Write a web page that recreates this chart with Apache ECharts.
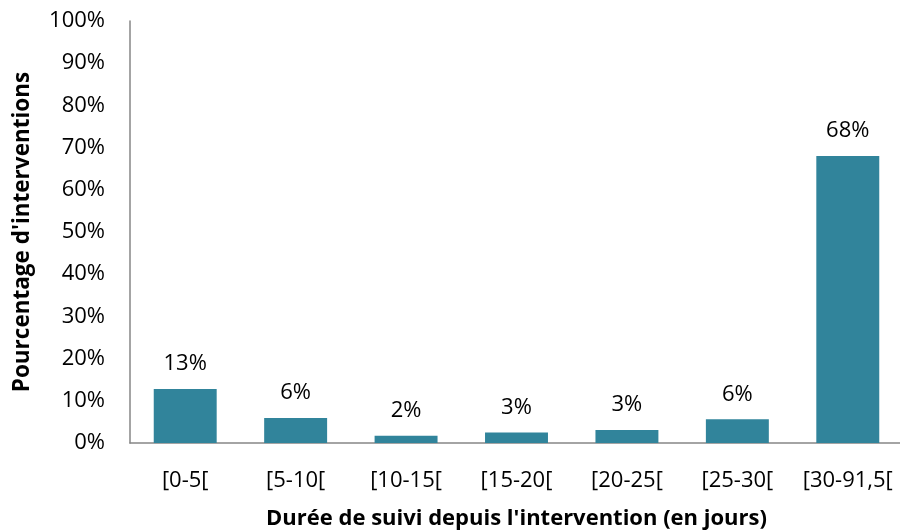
<!DOCTYPE html>
<html>
<head>
<meta charset="utf-8">
<script src="https://cdn.jsdelivr.net/npm/echarts@6/dist/echarts.min.js"></script>
<style>html,body{margin:0;padding:0;background:#fff}#c{width:900px;height:530px}</style>
</head>
<body>
<div id="c"></div>
<script>
const categories = ['[0-5[', '[5-10[', '[10-15[', '[15-20[', '[20-25[', '[25-30[', '[30-91,5['];
const values = [12.8, 5.9, 1.7, 2.5, 3.1, 5.6, 68.0];
const yTicks = {min: 0, max: 100, interval: 10};
const yTitle = "Pourcentage d'interventions";
const xTitle = "Durée de suivi depuis l'intervention (en jours)";

const FONT = 'Open Sans';
const chart = echarts.init(document.getElementById('c'), null, {renderer: 'canvas'});
chart.setOption({
  animation: false,
  textStyle: {fontFamily: FONT, color: '#000'},
  grid: {left: 130, right: -3, top: 21, bottom: 87, containLabel: false, outerBoundsMode: 'none'},
  xAxis: {
    type: 'category',
    data: categories,
    axisLine: {lineStyle: {color: '#868686', width: 1.5}},
    axisTick: {show: false},
    axisLabel: {color: '#000', fontSize: 22, fontFamily: FONT, margin: 27, interval: 0},
    name: xTitle,
    nameLocation: 'middle',
    nameGap: 65,
    nameTextStyle: {color: '#000', fontSize: 22, fontWeight: 'bold', fontFamily: FONT}
  },
  yAxis: {
    type: 'value',
    min: yTicks.min, max: yTicks.max, interval: yTicks.interval,
    axisLine: {show: true, lineStyle: {color: '#868686', width: 1.5}},
    axisTick: {show: false},
    splitLine: {show: false},
    axisLabel: {color: '#000', fontSize: 22, fontFamily: FONT, margin: 25, formatter: v => v + '%'},
    name: yTitle,
    nameLocation: 'middle',
    nameGap: 96,
    nameRotate: 90,
    nameTextStyle: {color: '#000', fontSize: 22.5, fontWeight: 'bold', fontFamily: FONT}
  },
  series: [{
    type: 'bar',
    data: values,
    barCategoryGap: '43%',
    itemStyle: {color: '#31849B'},
    label: {
      show: true, position: 'top', distance: 14,
      color: '#000', fontSize: 22, fontFamily: FONT,
      formatter: p => Math.round(p.value) + '%'
    }
  }]
});
</script>
</body>
</html>
